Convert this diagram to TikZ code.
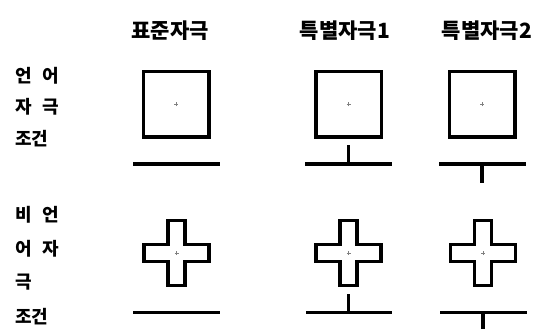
\documentclass[tikz,border=0pt]{standalone}
\usepackage{fontspec}
\newfontfamily\kr{Noto Sans CJK KR}
\begin{document}
\begin{tikzpicture}[x=1pt,y=-1pt,
  head/.style={font=\kr\bfseries\fontsize{21}{23}\selectfont, inner sep=0pt, anchor=center},
  lbl/.style={font=\kr\bfseries\fontsize{18}{18}\selectfont, inner sep=0pt, anchor=west},
  stim/.style={draw, line width=3.5pt, minimum width=65.5pt, minimum height=65.5pt, inner sep=0pt},
  fix/.style={line width=0.4pt, gray},
  bar/.style={line width=3.5pt}]
\useasboundingbox (0,0) rectangle (558,329);
% headers
\node[head] (h1) at (170,31) {표준자극};
\node[head] (h2) at (345,31) {특별자극1};
\node[head] (h3) at (487,31) {특별자극2};
% row labels
\node[lbl] (l1a) at (15,76) {언\hspace{11pt}어};
\node[lbl] (l1b) at (15,107) {자\hspace{11pt}극};
\node[lbl] (l1c) at (15,139) {조건};
\node[lbl] (l2a) at (15,215) {비\hspace{11pt}언};
\node[lbl] (l2b) at (15,249) {어\hspace{11pt}자};
\node[lbl] (l2c) at (15,282) {극};
\node[lbl] (l2d) at (15,317) {조건};
% squares
\foreach \n/\cx in {s1/176, s2/348.5, s3/482}{
  \node[stim] (\n) at (\cx,104.5) {};
  \draw[fix] ([xshift=-2pt]\n.center) -- ([xshift=2pt]\n.center)
             ([yshift=-2pt]\n.center) -- ([yshift=2pt]\n.center);
}
% crosses
\foreach \n/\cx in {c1/176.5, c2/348.5, c3/483}{
  \coordinate (\n) at (\cx,253);
  \draw[line width=3.5pt, line join=miter]
    ([shift={(-8.5,-32.5)}]\n) -- ([shift={(8.5,-32.5)}]\n) -- ([shift={(8.5,-8.5)}]\n)
    -- ([shift={(32.5,-8.5)}]\n) -- ([shift={(32.5,8.5)}]\n) -- ([shift={(8.5,8.5)}]\n)
    -- ([shift={(8.5,32.5)}]\n) -- ([shift={(-8.5,32.5)}]\n) -- ([shift={(-8.5,8.5)}]\n)
    -- ([shift={(-32.5,8.5)}]\n) -- ([shift={(-32.5,-8.5)}]\n) -- ([shift={(-8.5,-8.5)}]\n) -- cycle;
  \draw[fix] ([xshift=-2pt]\n) -- ([xshift=2pt]\n)
             ([yshift=-2pt]\n) -- ([yshift=2pt]\n);
}
% bars row 1
\coordinate (b1l) at (133,164); \coordinate (b1r) at (220,164);
\coordinate (b2l) at (305,164); \coordinate (b2r) at (392,164); \coordinate (b2m) at (348.5,164); \coordinate (t2) at (348.5,145);
\coordinate (b3l) at (439,164); \coordinate (b3r) at (526,164); \coordinate (b3m) at (482,164); \coordinate (t3) at (482,183);
\draw[bar] (b1l) -- (b1r);
\draw[bar] (b2l) -- (b2r); \draw[bar] (b2m) -- (t2);
\draw[bar] (b3l) -- (b3r); \draw[bar] (b3m) -- (t3);
% bars row 2
\coordinate (d1l) at (133,312.5); \coordinate (d1r) at (220,312.5);
\coordinate (d2l) at (306,312.5); \coordinate (d2r) at (392,312.5); \coordinate (d2m) at (348.5,312.5); \coordinate (u2) at (348.5,294);
\coordinate (d3l) at (440,312.5); \coordinate (d3r) at (527,312.5); \coordinate (d3m) at (483,312.5); \coordinate (u3) at (483,329);
\draw[bar] (d1l) -- (d1r);
\draw[bar] (d2l) -- (d2r); \draw[bar] (d2m) -- (u2);
\draw[bar] (d3l) -- (d3r); \draw[bar] (d3m) -- (u3);
\end{tikzpicture}
\end{document}
